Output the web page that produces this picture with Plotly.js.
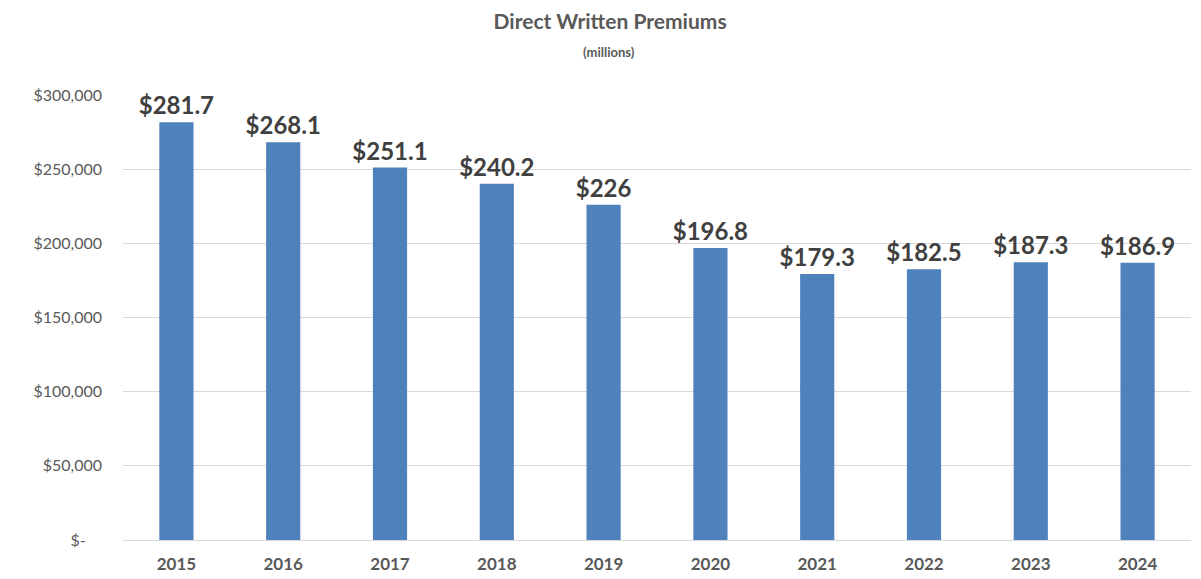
<!DOCTYPE html>
<html>
<head>
<meta charset="utf-8">
<script src="https://cdn.plot.ly/plotly-3.0.1.min.js"></script>
<style>html,body{margin:0;padding:0;background:#fff;}#chart{width:1201px;height:579px;}</style>
</head>
<body>
<div id="chart"></div>
<script>
const years = ["2015","2016","2017","2018","2019","2020","2021","2022","2023","2024"];
const premiumsMillions = [281700, 268100, 251100, 240200, 226000, 196800, 179300, 182500, 187300, 186900];
const labelText = ["$281.7","$268.1","$251.1","$240.2","$226","$196.8","$179.3","$182.5","$187.3","$186.9"];
const yTickVals = [0, 50000, 100000, 150000, 200000, 250000, 300000];
const yTickText = ["$-\u00a0\u00a0\u00a0\u00a0", "$50,000", "$100,000", "$150,000", "$200,000", "$250,000", "$300,000"];

const font = "Lato, 'Open Sans', sans-serif";

Plotly.newPlot("chart", [{
  type: "bar",
  x: years,
  y: premiumsMillions,
  text: labelText,
  textposition: "outside",
  constraintext: "none",
  cliponaxis: false,
  textfont: {family: font, size: 24, color: "#404040", weight: "bold"},
  marker: {color: "#4F81BD"},
  width: 0.32,
  hoverinfo: "skip"
}], {
  width: 1201, height: 579,
  margin: {l: 123, r: 10, t: 95, b: 39},
  paper_bgcolor: "#fff", plot_bgcolor: "#fff",
  showlegend: false,
  font: {family: font},
  title: {
    text: "<b>Direct Written Premiums</b>",
    font: {family: font, size: 21, color: "#595959"},
    xref: "container", x: 0.508, xanchor: "center",
    yref: "container", y: 0.962, yanchor: "middle"
  },
  annotations: [{
    text: "<b>(millions)</b>",
    xref: "paper", x: (609 - 123) / 1068, xanchor: "center",
    yref: "paper", y: 1 + (95 - 52) / 445, yanchor: "middle",
    showarrow: false,
    font: {family: font, size: 13, color: "#595959"}
  }],
  xaxis: {
    type: "category",
    showgrid: false, zeroline: false, showline: false,
    ticks: "", ticklabelstandoff: 12,
    tickfont: {family: font, size: 17, color: "#595959", weight: "bold"}
  },
  yaxis: {
    range: [0, 300000],
    tickvals: yTickVals, ticktext: yTickText,
    showgrid: true, gridcolor: "#d9d9d9", gridwidth: 1,
    zeroline: true, zerolinecolor: "#d9d9d9", zerolinewidth: 1,
    showline: false, ticks: "", ticklabelstandoff: 20,
    tickfont: {family: font, size: 16, color: "#595959"}
  }
}, {displayModeBar: false, staticPlot: true});
</script>
</body>
</html>
